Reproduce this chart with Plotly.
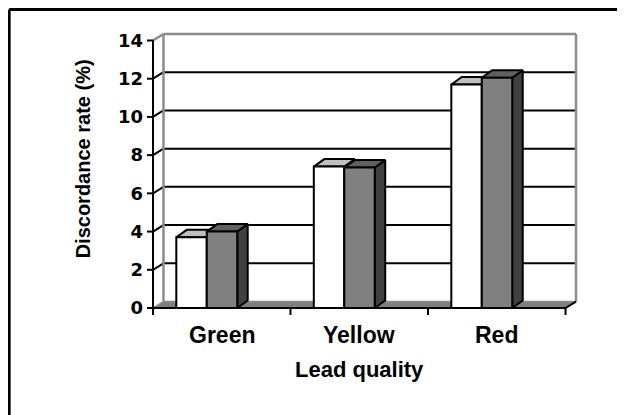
import plotly.graph_objects as go

# ---------------- data ----------------
categories = ["Green", "Yellow", "Red"]
series_white = [3.7, 7.4, 11.7]
series_gray = [4.0, 7.35, 12.05]
y_ticks = [0, 2, 4, 6, 8, 10, 12, 14]
x_title = "Lead quality"
y_title = "Discordance rate (%)"

# ---------------- geometry (page pixels -> figure pixels -> data units) ----------------
OFF = 8                      # default page body margin
W, H = 625 - 2 * OFF, 415 - OFF
FRONT_L, FRONT_R = 153.0 - OFF, 566.0 - OFF
ZERO_PX, TOP_PX = 308.0 - OFF, 40.0 - OFF
ymax = max(y_ticks)
ncat = len(categories)
ppx = (FRONT_R - FRONT_L) / ncat          # px per category
ppy = (ZERO_PX - TOP_PX) / ymax           # px per unit

wall_dx = 10.5 / ppx
wall_dy = 6.5 / ppy
bar_dx = 10.5 / ppx
bar_dy = 7.5 / ppy
bar_w = 30.5 / ppx
bar_shift = -15.0 / ppx
tick_len_x = 6.0 / ppx
tick_len_y = 7.0 / ppy

x_left = -0.5
x_right = ncat - 0.5
x_lo = x_left - 8 / ppx
x_hi = x_right + wall_dx + 3 / ppx
y_lo = -9 / ppy
y_hi = ymax + wall_dy + 2 / ppy

m_l = FRONT_L - 8
m_r = W - (FRONT_R + 10.5 + 3)
m_t = ZERO_PX - y_hi * ppy
m_b = H - (ZERO_PX + 9)
plot_w = W - m_l - m_r
plot_h = H - m_t - m_b

FONT = "Liberation Sans, Arial, Helvetica, sans-serif"
TICKFONT = "DejaVu Sans, Liberation Sans, Arial, sans-serif"

fig = go.Figure()


def poly_trace(polys, fill, line_color="black", lw=2):
    xs, ys = [], []
    for p in polys:
        for (a, b) in p:
            xs.append(a)
            ys.append(b)
        xs.append(p[0][0])
        ys.append(p[0][1])
        xs.append(None)
        ys.append(None)
    return go.Scatter(x=xs, y=ys, mode="lines", fill="toself", fillcolor=fill,
                      line=dict(color=line_color, width=lw), hoverinfo="skip",
                      showlegend=False)


def line_trace(segs, color="black", lw=2):
    xs, ys = [], []
    for (p, q) in segs:
        xs += [p[0], q[0], None]
        ys += [p[1], q[1], None]
    return go.Scatter(x=xs, y=ys, mode="lines", line=dict(color=color, width=lw),
                      hoverinfo="skip", showlegend=False)


# back wall and side wall (white)
back_wall = [(x_left + wall_dx, wall_dy), (x_right + wall_dx, wall_dy),
             (x_right + wall_dx, ymax + wall_dy), (x_left + wall_dx, ymax + wall_dy)]
side_wall = [(x_left, 0), (x_left + wall_dx, wall_dy),
             (x_left + wall_dx, ymax + wall_dy), (x_left, ymax)]
fig.add_trace(poly_trace([back_wall, side_wall], "white", "white", 0.1))

# gridlines on back wall + side wall
grid_segs = []
for v in y_ticks:
    if v == 0 or v == ymax:
        continue
    grid_segs.append(((x_left + wall_dx, v + wall_dy), (x_right + wall_dx, v + wall_dy)))
    grid_segs.append(((x_left, v), (x_left + wall_dx, v + wall_dy)))
fig.add_trace(line_trace(grid_segs, "black", 2))

# wall border (gray)
border = [((x_left + wall_dx, wall_dy), (x_left + wall_dx, ymax + wall_dy)),
          ((x_left + wall_dx, ymax + wall_dy), (x_right + wall_dx, ymax + wall_dy)),
          ((x_right + wall_dx, ymax + wall_dy), (x_right + wall_dx, wall_dy)),
          ((x_left, ymax), (x_left + wall_dx, ymax + wall_dy))]
fig.add_trace(line_trace(border, "#8c8c8c", 2.5))

# floor
floor = [(x_left, 0), (x_right, 0), (x_right + wall_dx, wall_dy), (x_left + wall_dx, wall_dy)]
fig.add_trace(poly_trace([floor], "#808080", "#8c8c8c", 1.5))
fig.add_trace(line_trace([((x_right, 0), (x_right + wall_dx, wall_dy))], "black", 2))


# bars
def bar_faces(values, offset):
    fronts, tops, sides = [], [], []
    for i, v in enumerate(values):
        x0 = i + bar_shift + offset
        x1 = x0 + bar_w
        fronts.append([(x0, 0), (x1, 0), (x1, v), (x0, v)])
        tops.append([(x0, v), (x1, v), (x1 + bar_dx, v + bar_dy), (x0 + bar_dx, v + bar_dy)])
        sides.append([(x1, 0), (x1 + bar_dx, bar_dy), (x1 + bar_dx, v + bar_dy), (x1, v)])
    return fronts, tops, sides


wf, wt, ws = bar_faces(series_white, -bar_w)
gf, gt, gs = bar_faces(series_gray, 0.0)
fig.add_trace(poly_trace(ws, "#808080"))
fig.add_trace(poly_trace(wt, "#c0c0c0"))
fig.add_trace(poly_trace(wf, "#ffffff"))
fig.add_trace(poly_trace(gs, "#404040"))
fig.add_trace(poly_trace(gt, "#606060"))
fig.add_trace(poly_trace(gf, "#808080"))

# front axes
axes = [((x_left, -tick_len_y), (x_left, ymax)), ((x_left, 0), (x_right, 0))]
for b in range(ncat + 1):
    axes.append(((x_left + b, 0), (x_left + b, -tick_len_y)))
for v in y_ticks:
    axes.append(((x_left - tick_len_x, v), (x_left, v)))
fig.add_trace(line_trace(axes, "black", 2))


def px_x(p):
    return (p - OFF - m_l) / plot_w


def px_y(p):
    return ((H - m_b) - (p - OFF)) / plot_h


# category labels and titles
annotations = []
for i, c in enumerate(categories):
    annotations.append(dict(x=i, y=px_y(335.5), xref="x", yref="paper",
                            text=c, showarrow=False, xanchor="center", yanchor="middle",
                            font=dict(family=FONT, size=23, color="black", weight="bold")))
annotations.append(dict(x=px_x(359.7), y=px_y(370), xref="paper", yref="paper",
                        text=x_title, showarrow=False, xanchor="center", yanchor="middle",
                        font=dict(family=FONT, size=22, color="black", weight="bold")))
annotations.append(dict(x=px_x(83), y=px_y(159), xref="paper", yref="paper",
                        text=y_title, showarrow=False, textangle=-90,
                        xanchor="center", yanchor="middle",
                        font=dict(family=FONT, size=20, color="black", weight="bold")))

shapes = [
    dict(type="line", xref="paper", yref="paper", x0=px_x(9), x1=px_x(9),
         y0=px_y(9), y1=px_y(440), line=dict(color="black", width=3)),
    dict(type="line", xref="paper", yref="paper", x0=px_x(9), x1=px_x(630),
         y0=px_y(9), y1=px_y(9), line=dict(color="black", width=3)),
]

fig.update_layout(
    width=W, height=H,
    margin=dict(l=m_l, r=m_r, t=m_t, b=m_b, pad=0),
    paper_bgcolor="white", plot_bgcolor="white",
    showlegend=False,
    xaxis=dict(range=[x_lo, x_hi], showgrid=False, zeroline=False, showline=False,
               showticklabels=False, ticks="", fixedrange=True),
    yaxis=dict(range=[y_lo, y_hi], showgrid=False, zeroline=False, showline=False,
               tickmode="array", tickvals=y_ticks, ticktext=[str(v) for v in y_ticks],
               ticks="", ticklabelstandoff=1, automargin=False,
               tickfont=dict(family=TICKFONT, size=18, color="black", weight="bold"),
               fixedrange=True),
    annotations=annotations,
    shapes=shapes,
)

fig.write_html("out.html")
